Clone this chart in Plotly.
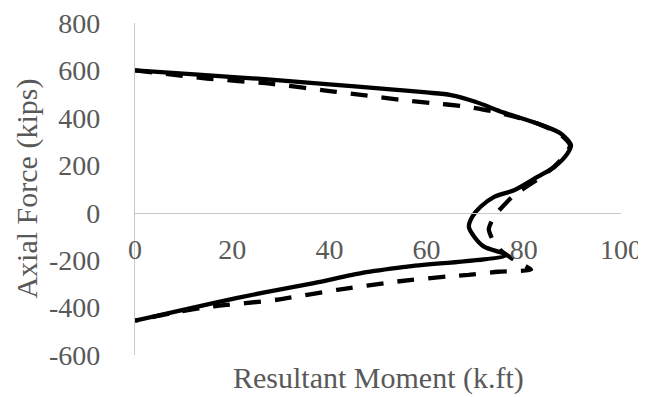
import plotly.graph_objects as go

# Solid curve (Resultant Moment k.ft, Axial Force kips)
solid_m = [0, 13, 26, 40, 52.6, 60, 65, 70, 75.9, 82.8, 87.6, 89.7, 89.0, 86.3, 82.8, 78.0, 73.9, 71.1, 69.4, 68.7, 69.8, 71.8, 76.3,
           56.0, 47.0, 36.8, 26.4, 16.1, 0]
solid_p = [600, 582, 564, 541, 520, 507, 496, 468, 422, 376, 334, 285, 250, 193, 151, 95, 67, 25, -17, -59, -101, -143, -178,
           -227, -253, -297, -337, -381, -455]

# Dashed curve
dash_m = [0, 14.8, 27.8, 40.9, 47.8, 54.3, 60.8, 67.7, 73.5, 79.0, 82.8, 87.4, 89.5, 88.8, 86.2, 83.5, 78.0, 76.3, 74.5, 73.5,
          72.8, 73.5, 75.3, 78.5, 81.5, 74.7, 68.6, 64.3, 54.0, 41.6, 29.2, 16.1, 9.3, 0]
dash_p = [600, 566, 544, 511, 494, 477, 463, 449, 428, 400, 376, 332, 285, 250, 193, 150, 74, 40, 0, -31,
          -70, -110, -160, -205, -240, -249, -262, -269, -290, -325, -367, -395, -416, -455]

x_ticks = [0, 20, 40, 60, 80, 100]
x_labels = ["0", "20", "40", "60", "80", "100"]
y_ticks = [-600, -400, -200, 0, 200, 400, 600, 800]
y_labels = ["-600", "-400", "-200", "0", "200", "400", "600", "800"]

font_family = "Liberation Serif"
grey = "#595959"

fig = go.Figure()
fig.add_trace(go.Scatter(x=solid_m, y=solid_p, mode="lines",
                         line=dict(color="black", width=4.3, shape="spline", smoothing=0.8),
                         showlegend=False))
fig.add_trace(go.Scatter(x=dash_m, y=dash_p, mode="lines",
                         line=dict(color="black", width=4.3, dash="17px,14px", shape="spline", smoothing=0.6),
                         showlegend=False))

# page has an 8px body margin; the figure is sized/offset to compensate
OFF = 8
W, H = 646 - OFF, 397 - OFF
L, R, T, B = 135 - OFF, 25, 22.5 - OFF, 41.6
pw = W - L - R
ph = H - T - B
zero_pos = 600 / 1400.0

fig.update_layout(
    width=W, height=H,
    margin=dict(l=L, r=R, t=T, b=B, pad=0, autoexpand=False),
    paper_bgcolor="white", plot_bgcolor="white",
    font=dict(family=font_family, size=28, color=grey),
    xaxis=dict(range=[0, 100], tickvals=x_ticks, ticktext=x_labels, showgrid=False, zeroline=False,
               showline=True, linecolor="#c8c8c8", linewidth=1.3, automargin=False,
               anchor="free", position=zero_pos, ticks="", ticklabelstandoff=12,
               ticklabeloverflow="allow",
               tickfont=dict(size=28, color=grey, family=font_family)),
    yaxis=dict(range=[-600, 800], tickvals=y_ticks, ticktext=y_labels, showgrid=False, zeroline=False,
               showline=True, linecolor="#c8c8c8", linewidth=1.3, automargin=False,
               ticks="", ticklabelstandoff=28, ticklabeloverflow="allow",
               tickfont=dict(size=28, color=grey, family=font_family)),
    annotations=[
        dict(text="Resultant Moment (k.ft)", xref="paper", yref="paper", x=0.5,
             y=-((378 - OFF) - (H - B)) / ph,
             xanchor="center", yanchor="middle", showarrow=False,
             font=dict(size=30, color=grey, family=font_family)),
        dict(text="Axial Force (kips)", xref="paper", yref="paper", x=-(L - (27 - OFF)) / pw,
             y=((H - B) - (188.5 - OFF)) / ph,
             xanchor="center", yanchor="middle", showarrow=False, textangle=-90,
             font=dict(size=30, color=grey, family=font_family)),
    ],
)

fig.write_html("out.html")
